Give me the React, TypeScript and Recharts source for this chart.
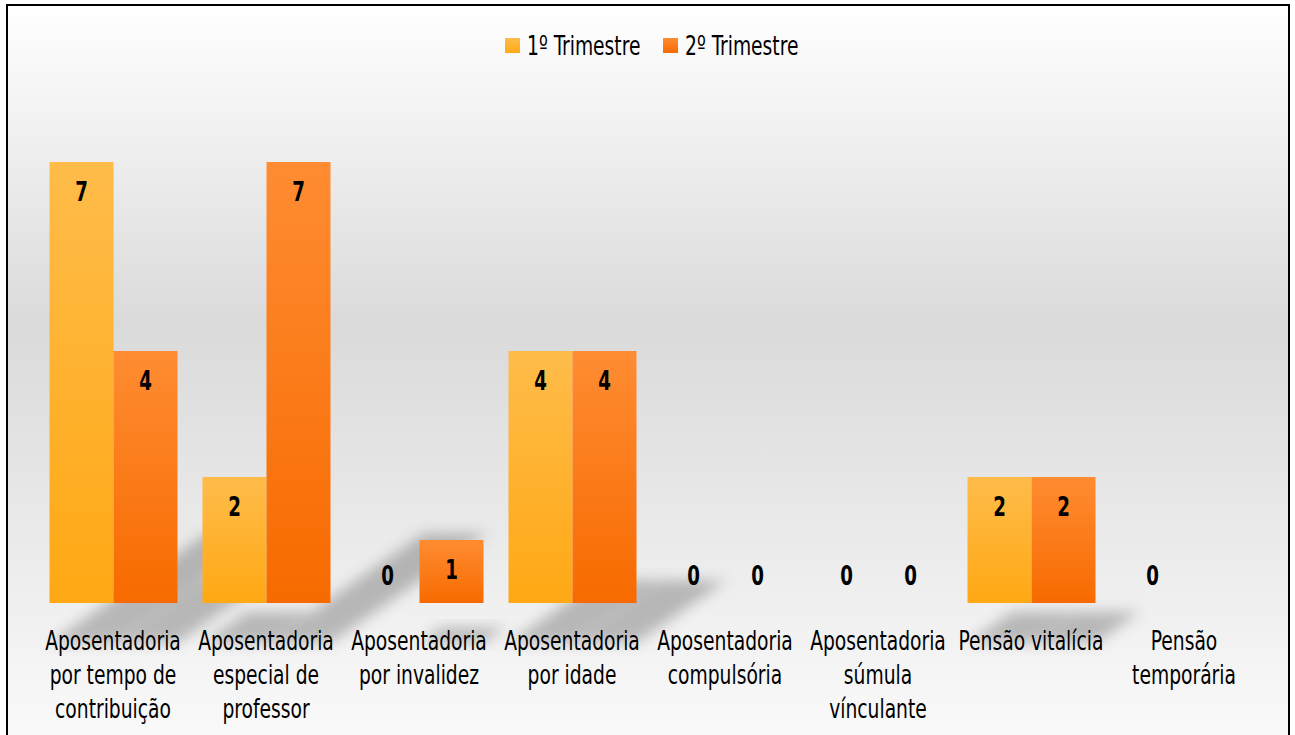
import React from 'react';
import { BarChart, Bar, XAxis, YAxis, LabelList, Legend } from 'recharts';

const categories = [
  'Aposentadoria por tempo de contribuição',
  'Aposentadoria especial de professor',
  'Aposentadoria por invalidez',
  'Aposentadoria por idade',
  'Aposentadoria compulsória',
  'Aposentadoria súmula vínculante',
  'Pensão vitalícia',
  'Pensão temporária',
];
const tickLines = [
  ['Aposentadoria', 'por tempo de', 'contribuição'],
  ['Aposentadoria', 'especial de', 'professor'],
  ['Aposentadoria', 'por invalidez'],
  ['Aposentadoria', 'por idade'],
  ['Aposentadoria', 'compulsória'],
  ['Aposentadoria', 'súmula', 'vínculante'],
  ['Pensão vitalícia'],
  ['Pensão', 'temporária'],
];
const trimestre1 = [7, 2, 0, 4, 0, 0, 2, 0];
const trimestre2 = [4, 7, 1, 4, 0, 0, 2, null];
const seriesNames = ['1º Trimestre', '2º Trimestre'];

const data = categories.map((c, i) => ({ name: c, t1: trimestre1[i], t2: trimestre2[i] }));

const FONT = '"DejaVu Sans Condensed", "DejaVu Sans", sans-serif';
const W = 1295;
const H = 735;
const MARGIN = { top: 99, right: 34.5, bottom: 92, left: 36.5 };
const SX = 0.8;

const NText = ({ x, y, children, size, bold, sx, anchor }: any) => (
  <text transform={`translate(${x},${y}) scale(${sx ?? SX},1)`} x={0} y={0}
    textAnchor={anchor || 'middle'} dominantBaseline="central"
    fontFamily={FONT} fontWeight={bold ? 'bold' : 'normal'} fontSize={size} fill="#000">
    {children}
  </text>
);

const ShadowShape = (props: any) => {
  const { x, y, width, height } = props;
  if (!height || height <= 1) return null;
  const b = y + height;
  const v = height * 0.23;
  const s = height * 0.33;
  const pts = `${x},${b} ${x + width},${b} ${x + width + s},${b - v} ${x + s},${b - v}`;
  return <polygon points={pts} fill="#000" fillOpacity={0.24} filter="url(#shblur)" />;
};

const ValueLabel = (props: any) => {
  const { x, y, width, height, value } = props;
  if (value === null || value === undefined) return null;
  const base = y + (height || 0);
  const cy = value === 0 ? base - 27 : y + 30;
  return <NText x={x + width / 2} y={cy} size={26} bold sx={0.78}>{value}</NText>;
};

const Tick = (props: any) => {
  const { x, y, payload } = props;
  const lines = tickLines[payload.index] || [String(payload.value)];
  return (
    <g>
      {lines.map((l, i) => (
        <NText key={i} x={x} y={y + 30 + i * 34} size={26}>{l}</NText>
      ))}
    </g>
  );
};

const LegendContent = () => {
  const fills = ['url(#lg1)', 'url(#lg2)'];
  const itemX = [505, 663];
  return (
    <svg width={W} height={40} style={{ display: 'block' }}>
      <defs>
        <linearGradient id="lg1" x1="0" y1="0" x2="0" y2="1">
          <stop offset="0%" stopColor="#FFBC4A" />
          <stop offset="100%" stopColor="#FFA814" />
        </linearGradient>
        <linearGradient id="lg2" x1="0" y1="0" x2="0" y2="1">
          <stop offset="0%" stopColor="#FF8C32" />
          <stop offset="100%" stopColor="#F76A00" />
        </linearGradient>
      </defs>
      {seriesNames.map((n, i) => (
        <g key={n}>
          <rect x={itemX[i]} y={8} width={15} height={15} fill={fills[i]} />
          <NText x={itemX[i] + 22} y={16} size={26} anchor="start">{n}</NText>
        </g>
      ))}
    </svg>
  );
};

export default function App() {
  return (
    <div style={{ position: 'absolute', left: 0, top: 0, width: W, height: H, overflow: 'hidden', background: '#fff' }}>
      <div style={{
        position: 'absolute', left: 6, top: 4, width: 1280, height: 760,
        border: '2px solid #000',
        background: 'linear-gradient(#FFFFFF 0%, #DADADA 42%, #FCFCFC 100%)',
      }} />
      <div style={{ position: 'absolute', left: 0, top: 0 }}>
        <BarChart width={W} height={H} data={data} margin={MARGIN} barGap={0} barSize={64}>
          <defs>
            <filter id="shblur" x="-50%" y="-50%" width="200%" height="200%">
              <feGaussianBlur stdDeviation="7" />
            </filter>
          </defs>
          <XAxis dataKey="name" hide />
          <YAxis hide domain={[0, 8]} />
          <Bar dataKey="t1" shape={ShadowShape} isAnimationActive={false} />
          <Bar dataKey="t2" shape={ShadowShape} isAnimationActive={false} />
        </BarChart>
      </div>
      <div style={{ position: 'absolute', left: 0, top: 0 }}>
        <BarChart width={W} height={H} data={data} margin={MARGIN} barGap={0} barSize={64}>
          <defs>
            <linearGradient id="g1" x1="0" y1="0" x2="0" y2="1">
              <stop offset="0%" stopColor="#FFBC4A" />
              <stop offset="100%" stopColor="#FFA814" />
            </linearGradient>
            <linearGradient id="g2" x1="0" y1="0" x2="0" y2="1">
              <stop offset="0%" stopColor="#FF8C32" />
              <stop offset="100%" stopColor="#F76A00" />
            </linearGradient>
          </defs>
          <XAxis dataKey="name" axisLine={false} tickLine={false} interval={0} height={40} tick={Tick} />
          <YAxis hide domain={[0, 8]} />
          <Legend verticalAlign="middle" align="center" content={LegendContent}
            wrapperStyle={{ top: 30, left: 0, width: W }} />
          <Bar dataKey="t1" name={seriesNames[0]} fill="url(#g1)" minPointSize={0.01} isAnimationActive={false}>
            <LabelList dataKey="t1" content={ValueLabel} />
          </Bar>
          <Bar dataKey="t2" name={seriesNames[1]} fill="url(#g2)" minPointSize={0.01} isAnimationActive={false}>
            <LabelList dataKey="t2" content={ValueLabel} />
          </Bar>
        </BarChart>
      </div>
    </div>
  );
}
